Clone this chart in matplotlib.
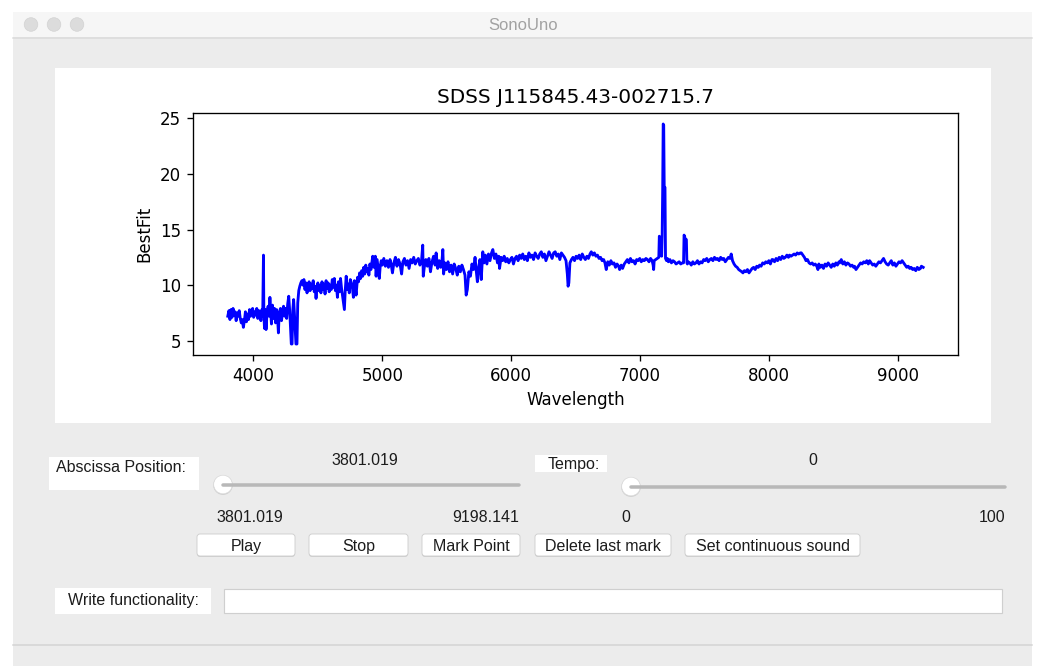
import matplotlib
matplotlib.use("Agg")
import matplotlib.pyplot as plt
from matplotlib.patches import Rectangle, FancyBboxPatch, Circle

# spectrum
wavelength = [3801, 3810, 3818, 3826, 3834, 3842, 3850, 3858, 3866, 3874, 3882, 3890, 3898, 3906,
              3914, 3922, 3930, 3938, 3946, 3954, 3962, 3970, 3978, 3986, 3994, 4002, 4010, 4018,
              4026, 4034, 4042, 4050, 4058, 4066, 4072, 4078, 4081, 4086, 4092, 4098, 4106, 4114,
              4122, 4128, 4134, 4140, 4148, 4156, 4164, 4172, 4180, 4188, 4194, 4200, 4210, 4218,
              4226, 4234, 4242, 4250, 4258, 4266, 4274, 4282, 4288, 4294, 4300, 4306, 4312, 4318,
              4324, 4330, 4338, 4344, 4352, 4360, 4368, 4376, 4384, 4392, 4400, 4408, 4416, 4424,
              4432, 4440, 4448, 4456, 4464, 4472, 4480, 4486, 4492, 4500, 4508, 4516, 4524, 4532,
              4540, 4548, 4556, 4564, 4572, 4580, 4588, 4596, 4604, 4612, 4620, 4628, 4636, 4644,
              4652, 4660, 4668, 4676, 4684, 4692, 4700, 4706, 4712, 4720, 4728, 4736, 4744, 4752,
              4760, 4768, 4776, 4784, 4797, 4808, 4816, 4824, 4832, 4840, 4848, 4856, 4864, 4872,
              4880, 4888, 4896, 4904, 4912, 4920, 4926, 4936, 4946, 4952, 4960, 4968, 4977, 4984,
              4992, 5000, 5012, 5024, 5036, 5048, 5060, 5070, 5079, 5090, 5102, 5114, 5126, 5138,
              5150, 5160, 5172, 5184, 5196, 5208, 5220, 5232, 5244, 5256, 5268, 5280, 5292, 5304,
              5314, 5318, 5326, 5338, 5350, 5362, 5374, 5386, 5398, 5410, 5418, 5430, 5442, 5454,
              5462, 5470, 5476, 5486, 5498, 5510, 5522, 5534, 5546, 5558, 5570, 5582, 5594, 5606,
              5618, 5630, 5642, 5651, 5660, 5672, 5684, 5696, 5708, 5720, 5730, 5738, 5748, 5758,
              5768, 5780, 5790, 5800, 5812, 5824, 5836, 5848, 5858, 5870, 5882, 5894, 5904, 5910,
              5922, 5934, 5946, 5958, 5970, 5982, 5994, 6006, 6018, 6030, 6042, 6054, 6066, 6078,
              6090, 6102, 6114, 6126, 6138, 6150, 6162, 6174, 6186, 6198, 6210, 6222, 6234, 6246,
              6258, 6270, 6282, 6294, 6306, 6318, 6330, 6342, 6354, 6366, 6378, 6390, 6402, 6414,
              6426, 6436, 6442, 6448, 6456, 6468, 6480, 6492, 6504, 6516, 6528, 6540, 6552, 6564,
              6576, 6588, 6600, 6612, 6622, 6634, 6646, 6658, 6670, 6682, 6694, 6706, 6718, 6728,
              6738, 6750, 6762, 6774, 6786, 6798, 6810, 6822, 6834, 6842, 6854, 6865, 6878, 6890,
              6902, 6914, 6926, 6938, 6950, 6962, 6974, 6986, 6998, 7010, 7022, 7034, 7046, 7058,
              7070, 7082, 7094, 7102, 7106, 7110, 7122, 7134, 7146, 7150, 7154, 7168, 7172, 7176,
              7180, 7184, 7188, 7194, 7198, 7202, 7206, 7212, 7220, 7232, 7244, 7256, 7268, 7280,
              7292, 7304, 7316, 7328, 7338, 7342, 7346, 7352, 7360, 7364, 7368, 7374, 7386, 7398,
              7410, 7422, 7434, 7446, 7458, 7470, 7482, 7494, 7506, 7518, 7530, 7542, 7554, 7566,
              7578, 7590, 7602, 7614, 7626, 7638, 7650, 7662, 7674, 7686, 7698, 7708, 7718, 7730,
              7742, 7754, 7766, 7778, 7790, 7799, 7810, 7822, 7834, 7846, 7858, 7870, 7882, 7894,
              7906, 7918, 7928, 7940, 7952, 7964, 7976, 7988, 8000, 8012, 8024, 8031, 8044, 8056,
              8068, 8080, 8092, 8104, 8116, 8128, 8140, 8152, 8161, 8172, 8184, 8196, 8208, 8220,
              8232, 8244, 8252, 8264, 8276, 8288, 8300, 8312, 8324, 8336, 8348, 8360, 8372, 8381,
              8388, 8400, 8412, 8424, 8436, 8448, 8460, 8472, 8484, 8496, 8508, 8520, 8532, 8544,
              8550, 8562, 8574, 8586, 8598, 8610, 8622, 8634, 8646, 8658, 8665, 8676, 8688, 8700,
              8712, 8724, 8736, 8748, 8760, 8772, 8782, 8794, 8806, 8818, 8830, 8842, 8854, 8866,
              8878, 8890, 8902, 8914, 8926, 8938, 8950, 8962, 8974, 8986, 8998, 9010, 9022, 9034,
              9046, 9058, 9070, 9082, 9093, 9104, 9116, 9128, 9140, 9152, 9164, 9176, 9184, 9198]

best_fit = [7.2, 7.7, 6.9, 7.8, 7.1, 7.9, 7.3, 7.6, 6.8, 7.5, 7.2, 7.7, 7.0, 6.6,
            6.9, 6.2, 6.8, 7.6, 6.7, 7.4, 6.9, 7.8, 7.2, 7.5, 7.9, 7.1, 7.6, 7.3,
            7.9, 7.0, 7.7, 7.4, 6.8, 7.8, 7.2, 12.7, 7.4, 6.1, 7.8, 6.0, 7.5, 8.1,
            7.2, 8.9, 7.6, 6.5, 8.2, 7.0, 7.9, 6.6, 7.8, 6.9, 5.7, 7.5, 7.9, 6.8,
            7.6, 8.1, 7.2, 7.9, 7.0, 8.3, 9.0, 7.6, 6.2, 4.7, 4.7, 7.8, 8.7, 7.5,
            6.0, 4.7, 4.7, 8.4, 9.5, 9.9, 10.2, 10.4, 10.0, 10.5, 9.6, 10.2, 9.3, 9.9,
            10.3, 9.5, 10.1, 9.7, 10.4, 9.4, 9.9, 8.8, 9.8, 10.2, 9.5, 10.0, 9.3, 10.3,
            9.6, 10.1, 9.2, 10.4, 9.7, 10.2, 9.4, 10.0, 9.6, 10.5, 9.8, 10.6, 9.5, 10.0,
            8.9, 10.3, 9.4, 10.6, 9.7, 9.0, 8.3, 7.8, 9.4, 10.8, 9.6, 10.1, 9.3, 10.5,
            10.2, 9.8, 8.9, 10.4, 9.1, 10.7, 10.3, 11.1, 10.6, 11.3, 10.8, 11.6, 11.0, 11.8,
            11.2, 11.5, 10.9, 11.9, 11.4, 12.1, 12.6, 11.6, 12.6, 10.8, 12.3, 11.5, 10.6, 11.7,
            12.2, 11.8, 12.4, 11.7, 12.2, 11.6, 12.3, 11.8, 11.1, 12.0, 12.5, 11.7, 12.3, 11.9,
            11.0, 12.1, 12.4, 11.8, 12.2, 11.5, 12.3, 12.0, 12.5, 11.9, 12.2, 12.4, 11.8, 12.1,
            13.6, 10.8, 11.6, 12.3, 11.7, 12.4, 11.2, 12.1, 12.6, 11.8, 12.9, 11.5, 12.2, 11.6,
            12.0, 13.2, 11.0, 12.0, 11.4, 12.1, 11.2, 11.8, 11.0, 11.9, 11.5, 10.9, 11.7, 11.2,
            11.8, 11.4, 10.9, 9.1, 9.6, 11.2, 10.8, 11.9, 11.4, 12.5, 11.2, 10.3, 11.6, 12.3,
            10.5, 13.0, 12.0, 12.7, 11.9, 12.8, 12.2, 12.9, 13.2, 12.4, 12.8, 12.0, 12.6, 11.5,
            12.5, 12.2, 12.6, 12.1, 12.4, 12.0, 12.3, 12.5, 11.9, 12.4, 12.6, 12.2, 12.7, 12.4,
            12.8, 12.3, 12.6, 12.2, 12.9, 12.5, 12.7, 12.3, 12.9, 12.6, 12.4, 12.8, 13.0, 12.5,
            12.8, 12.2, 12.6, 13.0, 12.7, 12.4, 12.9, 13.0, 12.6, 12.8, 12.3, 12.9, 12.7, 12.5,
            12.2, 11.0, 9.9, 10.2, 12.0, 12.3, 12.5, 12.2, 12.6, 12.4, 12.7, 12.3, 12.8, 12.5,
            12.3, 12.6, 12.4, 12.8, 13.0, 12.7, 12.9, 12.6, 12.7, 12.4, 12.5, 12.2, 12.3, 12.0,
            11.4, 12.1, 11.8, 12.2, 11.9, 12.0, 11.6, 11.9, 11.7, 11.4, 11.8, 11.5, 11.9, 12.1,
            12.3, 12.0, 12.4, 12.1, 12.2, 11.9, 12.3, 12.2, 12.4, 12.1, 12.3, 12.2, 12.4, 12.3,
            12.1, 12.4, 12.2, 11.8, 11.4, 12.2, 12.3, 12.4, 12.5, 14.4, 14.3, 12.6, 14.4, 18.5,
            24.5, 24.4, 18.8, 18.8, 12.4, 12.3, 12.2, 12.4, 12.1, 12.3, 12.0, 12.2, 12.1, 11.9,
            12.0, 12.1, 11.9, 12.0, 12.0, 14.5, 14.4, 14.1, 14.1, 12.0, 11.9, 12.1, 12.0, 11.8,
            12.1, 11.9, 12.0, 12.2, 11.9, 12.1, 12.0, 12.3, 12.2, 12.4, 12.1, 12.3, 12.4, 12.2,
            12.5, 12.3, 12.4, 12.2, 12.5, 12.3, 12.4, 12.1, 12.3, 12.5, 12.4, 12.8, 12.2, 11.9,
            11.7, 11.6, 11.4, 11.3, 11.2, 11.1, 11.3, 11.2, 11.4, 11.1, 11.3, 11.5, 11.6, 11.4,
            11.7, 11.6, 11.8, 11.7, 12.0, 11.9, 12.1, 12.0, 12.2, 11.9, 12.3, 12.3, 12.1, 12.4,
            12.2, 12.5, 12.3, 12.6, 12.4, 12.5, 12.7, 12.5, 12.7, 12.6, 12.7, 12.8, 12.7, 12.9,
            12.8, 12.9, 12.9, 12.7, 12.5, 12.2, 12.3, 12.0, 11.9, 12.0, 11.8, 11.9, 11.7, 11.4,
            11.9, 11.6, 11.8, 11.5, 11.9, 11.7, 12.0, 11.8, 11.6, 11.9, 11.7, 12.0, 11.8, 12.1,
            12.0, 12.3, 11.9, 12.1, 11.8, 12.0, 11.9, 11.7, 11.8, 11.6, 11.7, 11.4, 11.6, 11.8,
            12.0, 11.9, 12.1, 12.0, 12.2, 11.9, 12.2, 12.0, 11.8, 11.9, 11.7, 11.9, 12.1, 12.0,
            12.2, 12.4, 12.1, 11.9, 11.8, 12.0, 12.2, 11.8, 12.0, 11.7, 11.9, 12.1, 12.0, 12.2,
            12.0, 11.8, 11.6, 11.7, 11.5, 11.6, 11.4, 11.5, 11.3, 11.6, 11.4, 11.5, 11.7, 11.6]

title = "SDSS J115845.43-002715.7"
buttons = ["Play", "Stop", "Mark Point", "Delete last mark", "Set continuous sound"]
abscissa_range = ["3801.019", "9198.141"]
tempo_range = ["0", "100"]

W, H = 1038, 666
DPI = 120  # the embedded figure in the screenshot is drawn at ~1.2x
fig = plt.figure(figsize=(W / DPI, H / DPI), dpi=DPI)
fig.patch.set_facecolor("white")

# pixel-space axes for the window around the plot
bg = fig.add_axes([0, 0, 1, 1])
bg.set_xlim(0, W)
bg.set_ylim(H, 0)
bg.axis("off")

gui_font = "Liberation Sans"
txt_col = "#1c1c1c"
gui_size = 9.6


def rect(x0, y0, x1, y1, **kw):
    bg.add_patch(Rectangle((x0, y0), x1 - x0, y1 - y0, **kw))


def label(x, y, s, ha="left", size=gui_size):
    bg.text(x, y + 1.5, s, ha=ha, va="center", fontsize=size, family=gui_font, color=txt_col)


def button(x0, x1, y0, y1, s):
    bg.add_patch(FancyBboxPatch((x0, y0 + 1), x1 - x0, y1 - y0, boxstyle="round,pad=0,rounding_size=3",
                                fc="#d2d2d2", ec="none"))
    bg.add_patch(FancyBboxPatch((x0, y0), x1 - x0, y1 - y0, boxstyle="round,pad=0,rounding_size=3",
                                fc="white", ec="#cccccc", lw=0.5))
    label((x0 + x1) / 2, (y0 + y1) / 2, s, ha="center")


def slider(x0, x1, y):
    bg.plot([x0, x1], [y, y], color="#b8b8b8", lw=2.1, solid_capstyle="round")
    bg.add_patch(Circle((x0, y + 0.6), 9.8, fc="#d0d0d0", ec="none"))
    bg.add_patch(Circle((x0, y), 9.3, fc="white", ec="#dadada", lw=0.4))


# window
rect(13, 12, 1032, H, fc="#ececec", ec="none")
rect(13, 12, 1032, 37, fc="#f6f6f6", ec="none")
bg.plot([13, 1032], [37.5, 37.5], color="#dadada", lw=0.9)
bg.plot([13, 1032], [645, 645], color="#d4d4d4", lw=0.9)
for cx in [31, 54, 77]:
    bg.add_patch(Circle((cx, 24.5), 6.8, fc="#dcdcdc", ec="#d2d2d2", lw=0.4))
bg.text(523, 25, "SonoUno", ha="center", va="center", fontsize=10, family=gui_font, color="#a2a2a2")

# white panel holding the figure
rect(55, 68, 991, 423, fc="white", ec="none")

# controls
rect(49, 457, 199, 490, fc="white", ec="none")
label(56, 466, "Abscissa Position:")
label(365, 459, abscissa_range[0], ha="center")
slider(223, 519, 484.5)
label(250, 516, abscissa_range[0], ha="center")
label(519, 516, abscissa_range[1], ha="right")

rect(535, 455, 607, 472, fc="white", ec="none")
label(548, 463.5, "Tempo:")
label(813, 459, tempo_range[0], ha="center")
slider(631, 1005, 486.5)
label(626, 516, tempo_range[0], ha="center")
label(1005, 516, tempo_range[1], ha="right")

btn_x = [(197, 295), (309, 408), (422, 520), (535, 671), (685, 860)]
for (x0, x1), s in zip(btn_x, buttons):
    button(x0, x1, 534, 556, s)

rect(55, 588, 211, 614, fc="white", ec="none")
label(68, 599, "Write functionality:")
rect(224, 589, 1002, 613, fc="white", ec="#cfcfcf", lw=0.7)

# the spectrum plot
ax = fig.add_axes([193 / W, (H - 355) / H, 765 / W, 242 / H])
ax.plot(wavelength, best_fit, color="blue", lw=1.7)
ax.set_title(title)
ax.set_xlabel("Wavelength")
ax.set_ylabel("BestFit")

fig.savefig("out.png", dpi=DPI, facecolor="white")
